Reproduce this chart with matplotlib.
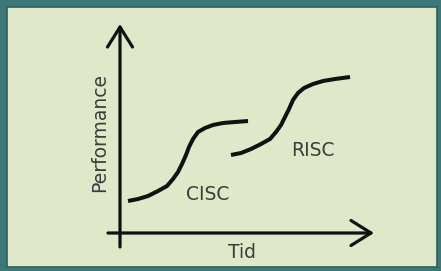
import matplotlib.pyplot as plt
from matplotlib.patches import Rectangle

# Curve points (x = time, y = performance, origin at axis crossing)
cisc_x = [8, 18, 28, 38, 47, 53, 58, 62, 66, 69, 73, 78, 85, 93, 103, 115, 128]
cisc_y = [32, 34, 37, 42, 47, 54, 61, 69, 78, 86, 94, 101, 105, 108, 110, 111, 112]
risc_x = [111, 121, 131, 141, 150, 156, 161, 165, 169, 173, 178, 184, 193, 203, 215, 230]
risc_y = [78, 80, 84, 89, 94, 101, 108, 116, 124, 133, 140, 145, 149, 152, 154, 156]

y_label = "Performance"
x_label = "Tid"
curve_labels = ["CISC", "RISC"]

fig = plt.figure(figsize=(4.41, 2.71), dpi=100)
fig.patch.set_facecolor('#3b7876')
ax = fig.add_axes([0, 0, 1, 1])
ax.set_xlim(-120, 321)
ax.set_ylim(-38, 233)
ax.axis('off')

# Light panel inside the teal frame
ax.add_patch(Rectangle((-113, -34), 430, 260, facecolor='#dfe9c9',
                       edgecolor='#2e5f5d', lw=1.2, zorder=0))

# Axes with open arrowheads
arrow = dict(arrowstyle='->,head_length=0.72,head_width=0.45', color='#111111',
             lw=2.3, mutation_scale=20, shrinkA=0, shrinkB=0)
ax.annotate('', xy=(0, 209), xytext=(0, -14), arrowprops=arrow, zorder=2)
ax.annotate('', xy=(254, 0), xytext=(-12, 0), arrowprops=arrow, zorder=2)

# Curves
ax.plot(cisc_x, cisc_y, color='#111111', lw=2.9, solid_capstyle='butt',
        solid_joinstyle='round', zorder=3)
ax.plot(risc_x, risc_y, color='#111111', lw=2.9, solid_capstyle='butt',
        solid_joinstyle='round', zorder=3)

txt = dict(color='#3c3c3c', fontsize=13.5, family='DejaVu Sans', ha='center', va='center')
ax.text(-20, 101, y_label, rotation=90, **txt)
ax.text(122, -20, x_label, **txt)
ax.text(88, 38, curve_labels[0], **txt)
ax.text(193, 83, curve_labels[1], **txt)

fig.savefig('out.png', dpi=100, facecolor=fig.get_facecolor())
